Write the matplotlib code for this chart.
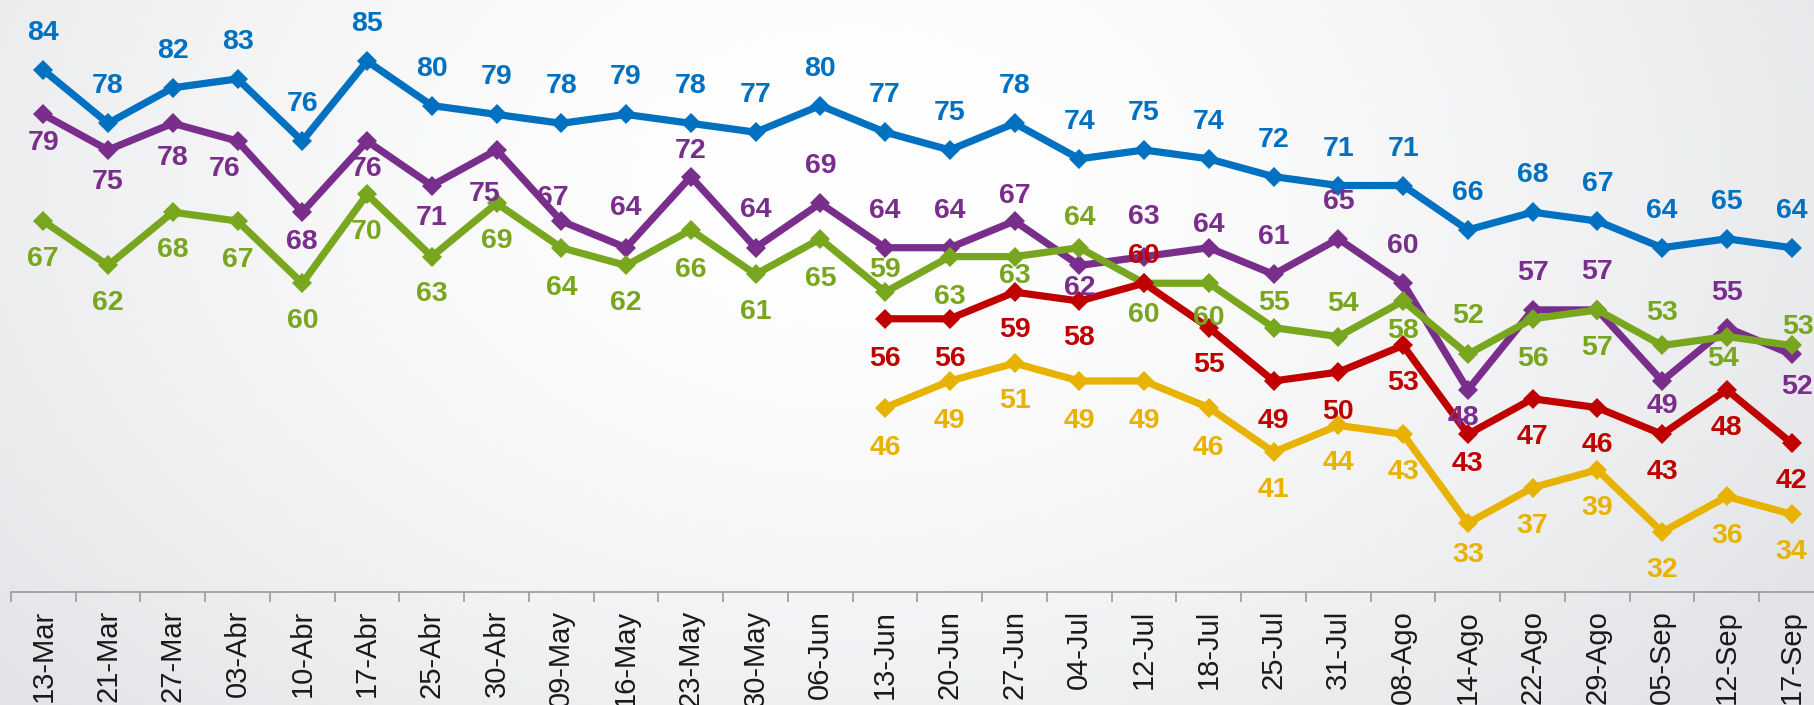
import numpy as np
import matplotlib.pyplot as plt
from matplotlib.colors import to_rgb

plt.rcParams['font.family'] = ['Liberation Sans', 'DejaVu Sans']

fechas = ["13-Mar", "21-Mar", "27-Mar", "03-Abr", "10-Abr", "17-Abr", "25-Abr", "30-Abr",
          "09-May", "16-May", "23-May", "30-May", "06-Jun", "13-Jun", "20-Jun", "27-Jun",
          "04-Jul", "12-Jul", "18-Jul", "25-Jul", "31-Jul", "08-Ago", "14-Ago", "22-Ago",
          "29-Ago", "05-Sep", "12-Sep", "17-Sep"]

azul = [84, 78, 82, 83, 76, 85, 80, 79, 78, 79, 78, 77, 80, 77, 75, 78, 74, 75, 74, 72,
        71, 71, 66, 68, 67, 64, 65, 64]
morado = [79, 75, 78, 76, 68, 76, 71, 75, 67, 64, 72, 64, 69, 64, 64, 67, 62, 63, 64, 61,
          65, 60, 48, 57, 57, 49, 55, 52]
verde = [67, 62, 68, 67, 60, 70, 63, 69, 64, 62, 66, 61, 65, 59, 63, 63, 64, 60, 60, 55,
         54, 58, 52, 56, 57, 53, 54, 53]
# rojo y amarillo empiezan el 13-Jun
inicio = 13
rojo = [56, 56, 59, 58, 60, 55, 49, 50, 53, 43, 47, 46, 43, 48, 42]
amarillo = [46, 49, 51, 49, 49, 46, 41, 44, 43, 33, 37, 39, 32, 36, 34]

# label offsets in pixels (negative = above)
dy_azul = [-37] * 28
dy_morado = [29, 32, 35, 28, 30, 28, 32, 44, -23, -40, -26, -38, -37, -37, -37, -25, 23, -40,
             -23, -37, -37, -37, 28, -37, -38, 25, -35, 33]
dx_morado = {3: -13, 7: -12, 8: -8, 22: -4, 27: 5}
dy_verde = [38, 38, 38, 39, 38, 38, 37, 38, 40, 38, 40, 38, 40, -22, 40, 19, -30, 32, 35, -25,
            -33, 30, -38, 40, 38, -32, 22, -18]
dx_verde = {20: 5, 26: -4, 27: 6}
dy_rojo = [40, 40, 38, 37, -27, 37, 40, 40, 38, 30, 38, 37, 38, 38, 38]
dy_amarillo = [40, 40, 38, 40, 40, 40, 38, 38, 38, 32, 38, 38, 38, 40, 38]

W, H = 1815, 705
fig = plt.figure(figsize=(W / 100, H / 100), dpi=100)

# fondo con degradado
bg = fig.add_axes([0, 0, 1, 1])
yy, xx = np.mgrid[0:1:200j, 0:1:500j]
r = np.sqrt(((xx - 0.47) / 0.62) ** 2 + ((yy - 0.75) / 1.1) ** 2)
t = np.clip(r, 0, 1) ** 1.6
c0 = np.array([1.0, 1.0, 1.0])
c1 = np.array(to_rgb("#e3e4e7"))
img = c0[None, None, :] * (1 - t[..., None]) + c1[None, None, :] * t[..., None]
bg.imshow(img, aspect="auto", extent=[0, 1, 0, 1], origin="lower")
bg.axis("off")

x_left = 10.9 / W
x_right = 1824 / W
y_bot = (H - 592) / H
ax = fig.add_axes([x_left, y_bot, x_right - x_left, 1 - y_bot])
ax.patch.set_alpha(0)

x = np.arange(len(fechas))
xs = x[inicio:]
series = [
    (x, azul, "#0070c0", dy_azul, {}),
    (x, morado, "#7a2e8c", dy_morado, dx_morado),
    (x, verde, "#78a61e", dy_verde, dx_verde),
    (xs, rojo, "#c00000", dy_rojo, {}),
    (xs, amarillo, "#e8b200", dy_amarillo, {}),
]

for xv, vals, col, dys, dxs in series:
    ax.plot(xv, vals, color=col, lw=5.2, marker="D", ms=10.5, mew=0, zorder=3)

for xv, vals, col, dys, dxs in series:
    for i, (xi, v) in enumerate(zip(xv, vals)):
        ax.annotate(str(v), (xi, v), xytext=(dxs.get(i, 0) * 0.72, -dys[i] * 0.72),
                    textcoords="offset points", ha="center", va="center",
                    fontsize=20.5, fontweight="bold", color=col, zorder=5)

ax.set_xlim(-0.5, 27.5)
ax.set_ylim(25.25, 91.88)
for s in ["top", "left", "right"]:
    ax.spines[s].set_visible(False)
ax.spines["bottom"].set_color("#a0a0a0")
ax.spines["bottom"].set_linewidth(1.3)
ax.set_yticks([])
ax.set_xticks(x)
ax.set_xticklabels(fechas, rotation=90, fontsize=21, color="#1a1a1a", va="top")
ax.tick_params(axis="x", which="major", length=0, pad=13)
ax.set_xticks(np.arange(-0.5, 28, 1), minor=True)
ax.tick_params(axis="x", which="minor", length=7.5, width=1.3, color="#a0a0a0")

fig.savefig("out.png", dpi=100)
